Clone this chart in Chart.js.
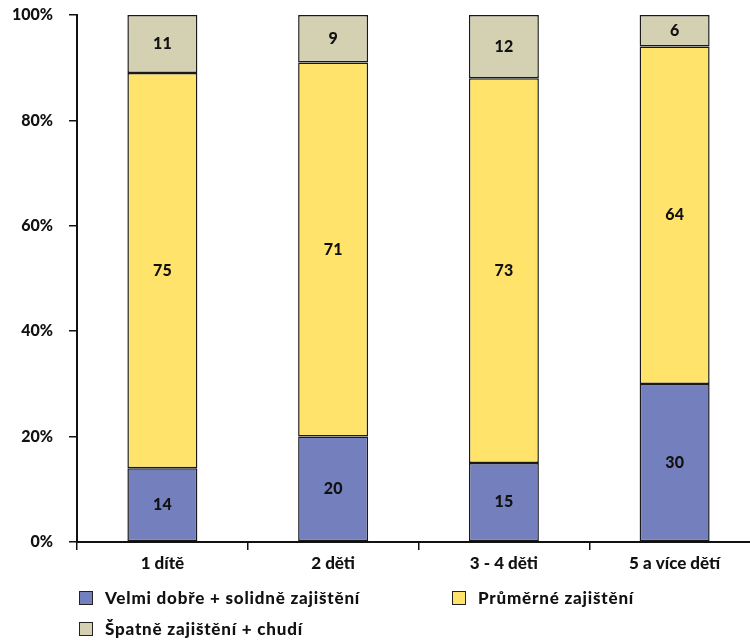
<!DOCTYPE html>
<html>
<head>
<meta charset="utf-8">
<script src="https://cdn.jsdelivr.net/npm/chart.js@4/dist/chart.umd.min.js"></script>
<style>
  html, body { margin: 0; padding: 0; background: #fff; overflow: hidden; width: 750px; height: 642px; }
  #wrap { position: relative; width: 750px; height: 642px; overflow: hidden; }
  canvas { position: absolute; left: 0; top: 0; }
  .leg { position: absolute; font-family: Lato, "DejaVu Sans", sans-serif; font-weight: 900; font-size: 17px; letter-spacing: 0.8px; color: #111; white-space: nowrap; }
  .leg span.box { display: inline-block; width: 12px; height: 12px; border: 1.5px solid #222; vertical-align: -1px; margin-right: 12px; }
</style>
</head>
<body>
<div id="wrap">
  <canvas id="myChart" width="760" height="642"></canvas>
  <div class="leg" style="left:79px; top:587px;"><span class="box" style="background:#7480BD"></span>Velmi dobře + solidně zajištění</div>
  <div class="leg" style="left:452px; top:587px;"><span class="box" style="background:#FFE36B"></span>Průměrné zajištění</div>
  <div class="leg" style="left:79px; top:618px;"><span class="box" style="background:#D4D1B2"></span>Špatně zajištění + chudí</div>
</div>
<script>
const categories = ['1 dítě', '2 děti', '3 - 4 děti', '5 a více dětí'];
const seriesNames = ['Velmi dobře + solidně zajištění', 'Průměrné zajištění', 'Špatně zajištění + chudí'];
const goodValues = [14, 20, 15, 30];
const averageValues = [75, 71, 73, 64];
const poorValues = [11, 9, 12, 6];
const colors = ['#7480BD', '#FFE36B', '#D4D1B2'];

const font = { family: 'Lato, "DejaVu Sans", sans-serif', weight: '900', size: 16 };

// numbers in the middle of each segment
const segmentLabels = {
  id: 'segmentLabels',
  afterDatasetsDraw(chart) {
    const ctx = chart.ctx;
    ctx.save();
    ctx.font = '900 16px Lato, "DejaVu Sans", sans-serif';
    ctx.fillStyle = '#111';
    ctx.textAlign = 'center';
    ctx.textBaseline = 'middle';
    chart.data.datasets.forEach((ds, i) => {
      chart.getDatasetMeta(i).data.forEach((bar, j) => {
        const y = (bar.y + bar.base) / 2;
        ctx.fillText(ds.data[j], bar.x, y);
      });
    });
    ctx.restore();
  }
};

let ctx = document.getElementById('myChart').getContext('2d');
let chart = new Chart(ctx, {
  type: 'bar',
  data: {
    labels: categories,
    datasets: [
      { label: seriesNames[0], data: goodValues, backgroundColor: colors[0] },
      { label: seriesNames[1], data: averageValues, backgroundColor: colors[1] },
      { label: seriesNames[2], data: poorValues, backgroundColor: colors[2] }
    ].map(d => Object.assign(d, {
      borderColor: '#1a1a1a',
      borderWidth: 1.5,
      borderSkipped: false,
      barPercentage: 0.41,
      categoryPercentage: 1
    }))
  },
  options: {
    responsive: false,
    animation: false,
    layout: { padding: { top: 15, right: 0, left: 0, bottom: 0 } },
    plugins: {
      legend: { display: false },
      tooltip: { enabled: false }
    },
    scales: {
      x: {
        stacked: true,
        afterFit: s => { s.height = 100; },
        border: { color: '#111', width: 2 },
        grid: { drawOnChartArea: false, drawTicks: true, tickLength: 8, color: '#111', lineWidth: 1.5, offset: true },
        ticks: { color: '#111', font: Object.assign({}, font, { size: 17 }), padding: 3 }
      },
      y: {
        stacked: true,
        min: 0,
        max: 100,
        afterFit: s => { s.width = 77; s.paddingTop = 0; s.paddingBottom = 0; },
        border: { color: '#111', width: 2 },
        grid: { drawOnChartArea: false, drawTicks: true, tickLength: 8, color: '#111', lineWidth: 1.5 },
        ticks: { stepSize: 20, color: '#111', font: font, padding: 16, callback: v => v + '%' }
      }
    }
  },
  plugins: [segmentLabels]
});
</script>
</body>
</html>
